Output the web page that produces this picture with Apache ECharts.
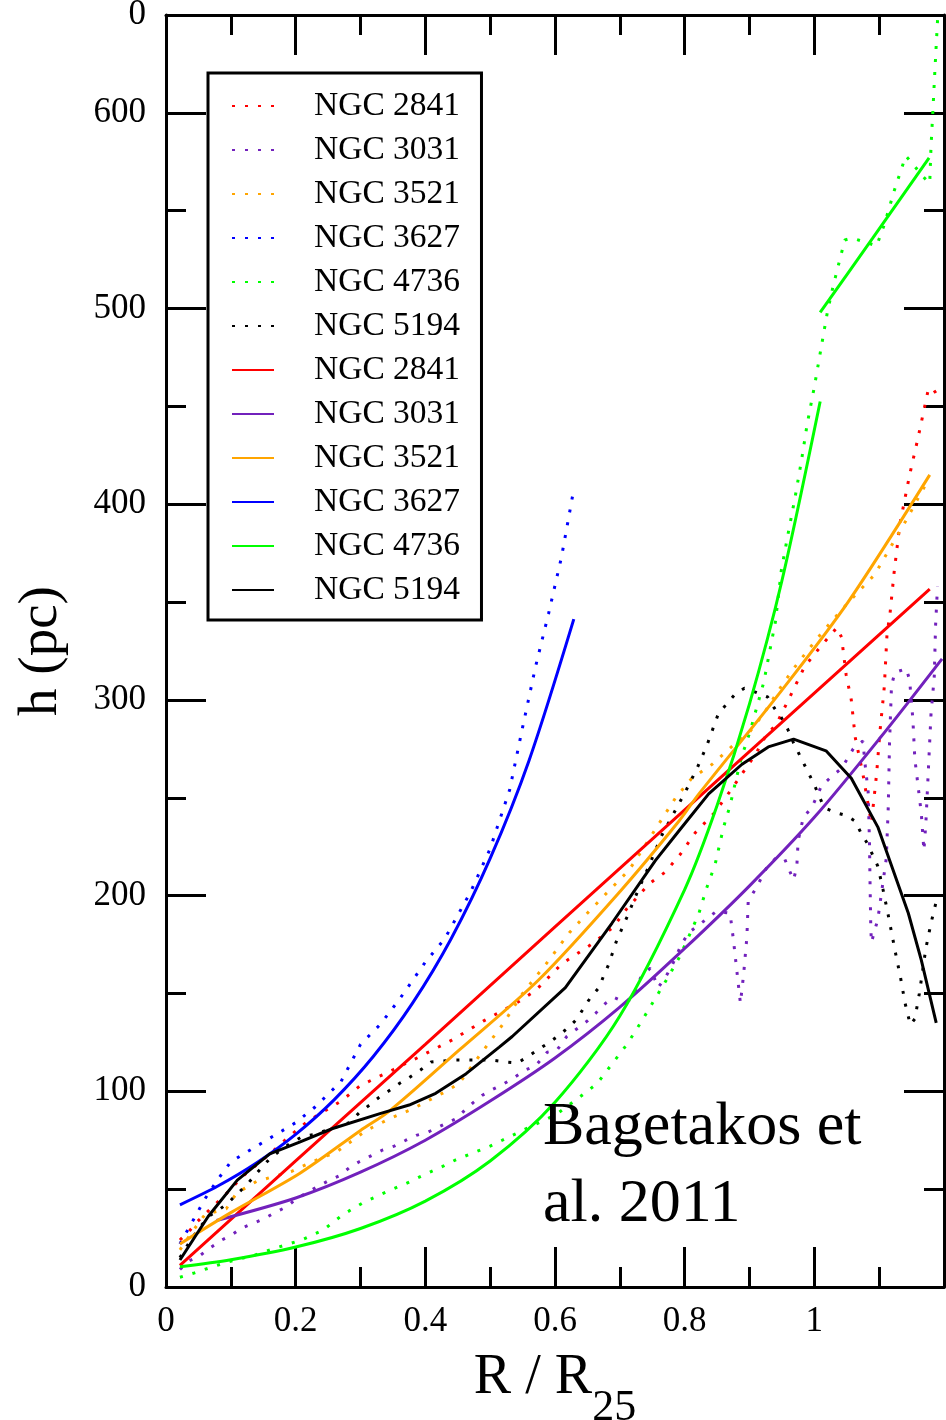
<!DOCTYPE html>
<html>
<head>
<meta charset="utf-8">
<style>
html,body{margin:0;padding:0;background:#fff;}
#chart{width:946px;height:1420px;}
</style>
<script src="https://cdn.jsdelivr.net/npm/echarts@6/dist/echarts.min.js"></script>
</head>
<body>
<div id="chart"></div>
<script>
// ---- data: [R/R25, h (pc)] ----
const dot2841 = [[0.0215,24],[0.037,29],[0.047,33],[0.075,42],[0.088,46],[0.12,57],[0.16,68],[0.19,77],[0.22,85],[0.27,95],[0.3,103],[0.35,111],[0.39,117.5],[0.44,126],[0.49,136],[0.54,145],[0.57,151.5],[0.61,165],[0.66,176],[0.69,184],[0.71,193],[0.745,206],[0.77,212],[0.793,221],[0.816,232],[0.845,242],[0.865,251],[0.888,262],[0.909,272],[0.924,281],[0.942,288],[0.96,300],[0.985,317],[1.009,327],[1.035,337],[1.042,332],[1.049,313],[1.057,300],[1.063,281],[1.075,262],[1.088,237],[1.096,262],[1.101,283],[1.108,307],[1.112,333],[1.117,345],[1.123,365],[1.132,390],[1.147,415],[1.16,434],[1.176,459],[1.183,459],[1.195,453]];
const dot3031 = [[0.0215,9],[0.034,13],[0.052,16],[0.068,20],[0.086,24],[0.101,26.5],[0.116,30],[0.152,35],[0.168,38],[0.186,41],[0.201,45],[0.232,51],[0.249,54],[0.268,57],[0.283,61],[0.298,64],[0.316,67],[0.334,70],[0.352,72],[0.37,75],[0.386,77.5],[0.403,79],[0.422,82],[0.447,86],[0.473,94],[0.488,98],[0.504,101],[0.522,104],[0.537,107],[0.555,111],[0.57,113],[0.588,120],[0.603,121],[0.618,128],[0.634,132],[0.65,136],[0.663,140],[0.678,145],[0.691,148],[0.705,146],[0.719,147],[0.732,158],[0.747,163],[0.759,153],[0.77,158],[0.78,164],[0.795,175],[0.806,181],[0.822,185],[0.849,192],[0.87,191],[0.875,178],[0.881,160],[0.886,145],[0.891,160],[0.896,179],[0.898,197],[0.912,205],[0.926,214],[0.94,219],[0.954,219],[0.96,214],[0.968,208],[0.973,215],[0.975,228],[0.983,240],[0.996,245],[1.011,256],[1.027,261],[1.042,265],[1.06,275],[1.075,279],[1.078,268],[1.083,253],[1.085,228],[1.086,205],[1.087,185],[1.088,176],[1.093,182],[1.098,188],[1.111,219],[1.114,245],[1.116,278],[1.119,307],[1.124,314],[1.142,316],[1.147,310],[1.152,290],[1.155,270],[1.16,256],[1.165,242],[1.169,223],[1.172,237],[1.176,265],[1.18,293],[1.185,312],[1.187,338],[1.19,358]];
const dot3521 = [[0.0215,19],[0.04,28],[0.06,37],[0.093,40],[0.109,48],[0.14,54],[0.193,59],[0.226,64],[0.263,69],[0.309,80],[0.345,86],[0.38,91],[0.432,100],[0.452,104],[0.483,118],[0.519,134],[0.55,150],[0.586,165],[0.622,181],[0.647,190],[0.673,199],[0.714,213],[0.734,223],[0.755,234],[0.786,250],[0.811,260],[0.842,267],[0.872,276],[0.901,284],[0.922,293],[0.945,305],[0.968,316],[1.001,330],[1.016,336],[1.042,346],[1.067,355],[1.093,364],[1.114,376],[1.142,392],[1.16,403],[1.17,409]];
const dot3627 = [[0.0215,22],[0.04,33],[0.06,45],[0.08,55],[0.1,64],[0.14,72],[0.17,78],[0.2,84],[0.23,92],[0.27,105],[0.3,124],[0.33,134],[0.36,147],[0.4,166],[0.43,178],[0.47,202],[0.5,224],[0.53,254],[0.55,286],[0.57,317],[0.59,344],[0.61,373],[0.627,404]];
const dot4736 = [[0.0215,5],[0.042,7],[0.078,11],[0.098,13],[0.134,16],[0.17,20],[0.209,24],[0.242,29],[0.273,37],[0.306,43.5],[0.34,48.6],[0.375,53.6],[0.396,57],[0.429,62],[0.447,65],[0.5,72],[0.55,80],[0.601,88],[0.634,96],[0.665,104],[0.688,114],[0.711,124],[0.732,135],[0.752,146],[0.772,157],[0.791,168],[0.809,181],[0.822,191],[0.834,204],[0.847,216],[0.86,235],[0.87,246],[0.879,259],[0.888,271],[0.901,284],[0.911,296],[0.922,309],[0.933,328],[0.94,340],[0.949,366],[0.959,384],[0.97,403],[0.98,422],[0.989,441],[1.0,460],[1.01,479],[1.02,498],[1.028,510],[1.037,522],[1.047,535],[1.058,536],[1.078,534],[1.096,532],[1.108,543],[1.124,561],[1.141,578],[1.154,573],[1.166,568],[1.178,564],[1.18,583],[1.183,602],[1.186,622],[1.19,647],[1.192,660]];
const dot5194 = [[0.0215,15],[0.04,25],[0.065,36],[0.08,39],[0.096,43],[0.111,48],[0.124,52],[0.137,57],[0.15,62],[0.163,66.5],[0.19,73],[0.211,77],[0.229,78],[0.247,80],[0.283,84],[0.298,89],[0.314,93],[0.329,97],[0.345,100.5],[0.36,104],[0.375,107],[0.393,111],[0.409,115],[0.426,115.5],[0.447,116],[0.468,116],[0.501,116],[0.524,115],[0.542,114.5],[0.557,117.5],[0.575,121.5],[0.591,125],[0.606,128.6],[0.622,133],[0.634,137],[0.645,143],[0.655,148],[0.668,153],[0.675,159],[0.683,165],[0.695,177],[0.711,189],[0.726,201],[0.742,213],[0.765,231],[0.783,242],[0.801,253],[0.819,265],[0.834,276.5],[0.852,293],[0.865,298],[0.878,303],[0.892,306],[0.909,304],[0.928,301.5],[0.938,296],[0.949,291],[0.959,285],[0.968,278],[0.983,268],[1.0,256.6],[1.015,245],[1.032,242.5],[1.049,241],[1.063,238],[1.072,232],[1.082,226.5],[1.098,215],[1.106,203],[1.114,190],[1.125,171],[1.133,158],[1.14,145],[1.148,134],[1.155,137],[1.162,150],[1.172,173],[1.18,186],[1.188,197]];

const fit2841 = [[0.0215,11],[0.2,64.5],[0.4,124],[0.6,184],[0.8,243.8],[1.0,303.5],[1.178,356.6]];
const fit3031 = [[0.078,34],[0.2,45.5],[0.3,58.7],[0.4,75],[0.5,95],[0.6,117],[0.7,143],[0.8,173],[0.9,205],[1.0,240],[1.1,280],[1.197,321]];
const fit3521 = [[0.0215,22],[0.1,38],[0.206,58],[0.3,80],[0.345,90],[0.452,121],[0.575,157],[0.7,202],[0.791,238],[0.822,252],[0.95,305],[1.052,350],[1.178,415]];
const fit3627 = [[0.0215,42],[0.08,51.6],[0.14,63.5],[0.2,78],[0.26,95.9],[0.32,117.9],[0.38,144.9],[0.44,178.1],[0.5,219],[0.56,269.1],[0.629,341.3]];
const fit4736 = [[0.0215,10.3],[0.1,13.9],[0.2,20.4],[0.3,29.9],[0.4,43.9],[0.5,64.4],[0.6,94.4],[0.7,138.5],[0.8,203.1],[0.85,246],[0.9,298],[0.95,360.9],[1.009,452.5],[1.009,'-'],[1.009,498],[1.09,536],[1.177,577]];
const fit5194 = [[0.0215,13.8],[0.065,36],[0.11,54.6],[0.16,68],[0.206,74],[0.257,81],[0.33,88.6],[0.375,93],[0.416,99],[0.463,109],[0.514,122.6],[0.534,128],[0.616,153],[0.688,186],[0.755,218],[0.791,233],[0.837,252],[0.888,267],[0.929,276],[0.968,280],[1.018,274],[1.057,260],[1.098,235],[1.145,191],[1.165,167],[1.188,135]];

const galaxyNames = ['NGC 2841','NGC 3031','NGC 3521','NGC 3627','NGC 4736','NGC 5194'];
const galaxyColors = ['#ff0000','#7221bc','#ffa500','#0000ff','#00ff00','#000000'];
const dotData = [dot2841, dot3031, dot3521, dot3627, dot4736, dot5194];
const fitData = [fit2841, fit3031, fit3521, fit3627, fit4736, fit5194];
const fitSmooth = [false, 0.3, 0.3, 0.3, 0.3, false];
const yTickMax = 650;

const FONT = 'Liberation Serif';
const chart = echarts.init(document.getElementById('chart'), null, {renderer:'canvas'});

const series = [];
const legendData = [];
galaxyNames.forEach((n,i)=>{
  series.push({name:n, type:'line', xAxisIndex:0, yAxisIndex:0, data:dotData[i], symbol:'none', showSymbol:false,
    lineStyle:{color:galaxyColors[i], width:3, type:[3,10], cap:'butt'}, itemStyle:{color:galaxyColors[i]},
    emphasis:{disabled:true}, z:3});
  legendData.push(n);
});
galaxyNames.forEach((n,i)=>{
  series.push({name:n+' ', type:'line', xAxisIndex:0, yAxisIndex:0, data:fitData[i], symbol:'none', showSymbol:false,
    smooth:fitSmooth[i],
    lineStyle:{color:galaxyColors[i], width:3, type:'solid'}, itemStyle:{color:galaxyColors[i]},
    emphasis:{disabled:true}, z:4});
  legendData.push(n+' ');
});

const axisLineStyle = {color:'#000', width:3};
const gridRect = {left:166, top:15, right:2, bottom:133, containLabel:false, outerBoundsMode:'none'};

const option = {
  animation:false,
  backgroundColor:'#fff',
  grid:[Object.assign({}, gridRect), Object.assign({}, gridRect)],
  title:{
    text:'Bagetakos et\nal. 2011', left:538, top:1084,
    textStyle:{fontFamily:FONT, fontSize:62, fontWeight:'normal', color:'#000', lineHeight:77}
  },
  legend:{
    show:true, orient:'vertical', left:208, top:73,
    itemWidth:42, itemHeight:14, itemGap:10,
    padding:[16,13,13,23],
    backgroundColor:'#fff', borderColor:'#000', borderWidth:3, borderRadius:0,
    selectedMode:false,
    itemStyle:{color:'rgba(0,0,0,0)', borderColor:'rgba(0,0,0,0)', borderWidth:0, opacity:0},
    textStyle:{fontFamily:FONT, fontSize:33.5, color:'#000', lineHeight:32, padding:[0,0,0,35]},
    data:legendData
  },
  xAxis:[
    {gridIndex:0, type:'value', position:'bottom', min:0, max:1.2, interval:0.2,
     axisLine:{show:true, onZero:false, lineStyle:axisLineStyle},
     axisTick:{show:true, inside:true, length:40, lineStyle:{color:'#000', width:3}},
     minorTick:{show:true, splitNumber:2, length:20, lineStyle:{color:'#000', width:3}},
     splitLine:{show:false}, minorSplitLine:{show:false},
     axisLabel:{show:true, margin:17, color:'#000', fontFamily:FONT, fontSize:35, showMaxLabel:false},
     name:'{a|R / R}{b|25}', nameLocation:'middle', nameGap:39,
     nameTextStyle:{fontFamily:FONT, color:'#000',
       rich:{a:{fontFamily:FONT, fontSize:56, color:'#000'}, b:{fontFamily:FONT, fontSize:44, color:'#000', padding:[60,0,0,0]}}}
    },
    {gridIndex:0, type:'value', position:'top', min:0, max:1.2, interval:0.2,
     axisLine:{show:true, onZero:false, lineStyle:axisLineStyle},
     axisTick:{show:true, inside:true, length:40, lineStyle:{color:'#000', width:3}},
     minorTick:{show:true, splitNumber:2, length:20, lineStyle:{color:'#000', width:3}},
     splitLine:{show:false}, minorSplitLine:{show:false},
     axisLabel:{show:false}
    },
    {gridIndex:1, type:'value', show:false, min:0, max:1.2}
  ],
  yAxis:[
    {gridIndex:0, type:'value', position:'left', min:0, max:yTickMax, interval:100,
     axisLine:{show:true, onZero:false, lineStyle:axisLineStyle},
     axisTick:{show:true, inside:true, length:40, lineStyle:{color:'#000', width:3}},
     splitLine:{show:false},
     axisLabel:{show:true, margin:20, color:'#000', fontFamily:FONT, fontSize:35,
       formatter:(v)=> v===yTickMax ? '0' : String(v)},
     name:'h (pc)', nameLocation:'middle', nameGap:97, nameRotate:90,
     nameTextStyle:{fontFamily:FONT, fontSize:55, color:'#000'}
    },
    {gridIndex:0, type:'value', position:'right', min:0, max:yTickMax, interval:100,
     axisLine:{show:true, onZero:false, lineStyle:axisLineStyle},
     axisTick:{show:true, inside:true, length:40, lineStyle:{color:'#000', width:3}},
     splitLine:{show:false}, axisLabel:{show:false}
    },
    {gridIndex:1, type:'value', position:'left', min:0, max:yTickMax, interval:50,
     axisLine:{show:false}, axisTick:{show:true, inside:true, length:20, lineStyle:{color:'#000', width:3}},
     splitLine:{show:false}, axisLabel:{show:false}
    },
    {gridIndex:1, type:'value', position:'right', min:0, max:yTickMax, interval:50,
     axisLine:{show:false}, axisTick:{show:true, inside:true, length:20, lineStyle:{color:'#000', width:3}},
     splitLine:{show:false}, axisLabel:{show:false}
    }
  ],
  series: series.concat([
    {type:'line', xAxisIndex:2, yAxisIndex:2, data:[], silent:true}
  ])
};
chart.setOption(option);
</script>
</body>
</html>
